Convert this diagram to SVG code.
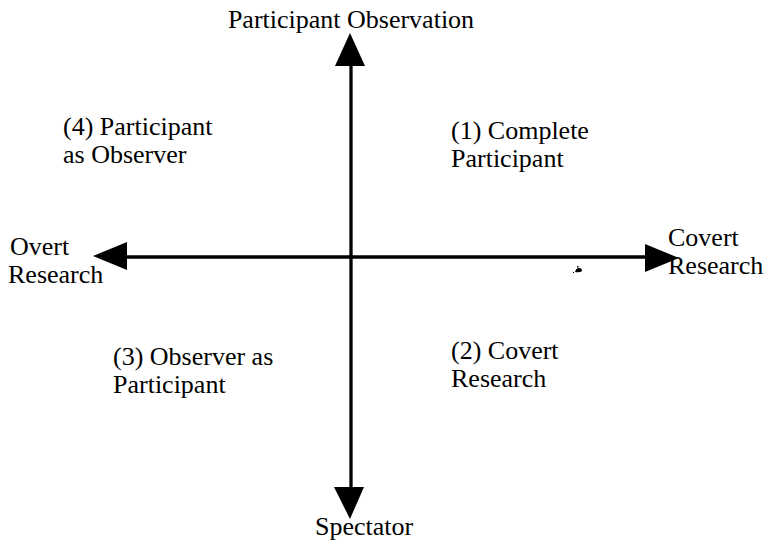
<svg xmlns="http://www.w3.org/2000/svg" width="773" height="540" viewBox="0 0 773 540">
  <style>
    .axis { stroke: #000; stroke-width: 3.3; fill: none; }
    .head { fill: #000; }
  </style>
  <rect width="773" height="540" fill="#fff"/>

  <!-- axes with arrowheads -->
  <g id="connectors">
    <line class="axis" x1="351" y1="64" x2="351" y2="488"/>
    <line class="axis" x1="126" y1="257" x2="646" y2="257"/>
    <polygon class="head" points="350,33 335,66 365,66"/>
    <polygon class="head" points="350,519 334,487 364,487"/>
    <polygon class="head" points="93,256 127,242 127,270"/>
    <polygon class="head" points="679,258 645,244 645,272"/>
  </g>

  <g font-family="'Liberation Serif', serif" font-size="26" fill="#000">
    <!-- axis end labels -->
    <g id="participant-observation">
      <text x="351" y="28" text-anchor="middle">Participant Observation</text>
    </g>
    <g id="spectator">
      <text x="315" y="535">Spectator</text>
    </g>
    <g id="overt-research">
      <text x="10" y="255">Overt</text>
      <text x="8" y="283">Research</text>
    </g>
    <g id="covert-research-axis">
      <text x="668" y="246">Covert</text>
      <text x="668" y="274">Research</text>
    </g>

    <!-- quadrant labels -->
    <g id="q1">
      <text x="451" y="139">(1) Complete</text>
      <text x="451" y="167">Participant</text>
    </g>
    <g id="q2">
      <text x="451" y="359">(2) Covert</text>
      <text x="451" y="387">Research</text>
    </g>
    <g id="q3">
      <text x="113" y="365">(3) Observer as</text>
      <text x="113" y="393">Participant</text>
    </g>
    <g id="q4">
      <text x="63" y="135">(4) Participant</text>
      <text x="63" y="163">as Observer</text>
    </g>
  </g>

  <!-- small ink mark below the right axis -->
  <path d="M575,272 q1,-4 4,-4 q3,0 3,3 q-2,2 -7,1 z M577,266 l1.5,0 l0,1.5 l-1.5,0 z M573,272 l1,0 l0,1 l-1,0 z" fill="#000"/>
</svg>
